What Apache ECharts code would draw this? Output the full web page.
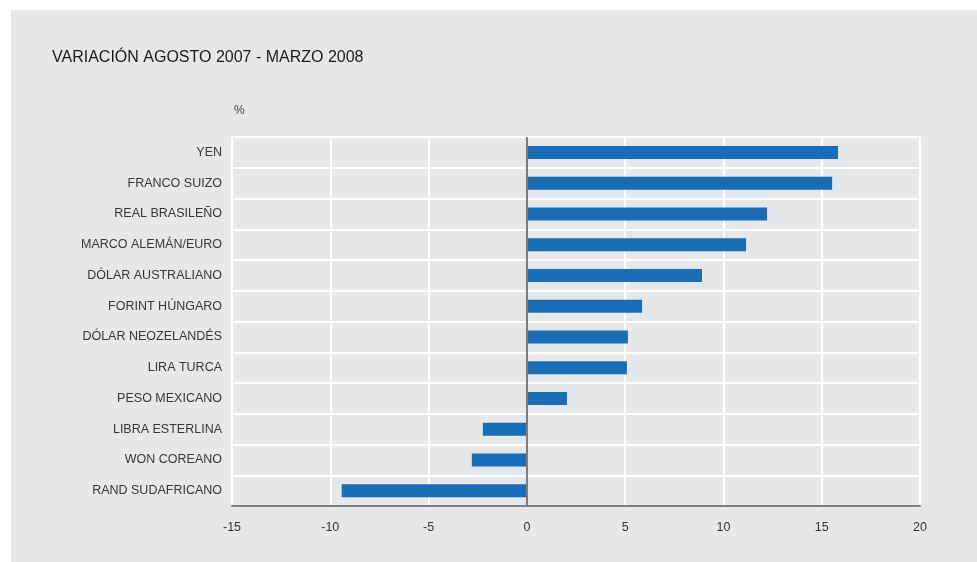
<!DOCTYPE html>
<html>
<head>
<meta charset="utf-8">
<script src="https://cdn.jsdelivr.net/npm/echarts@6/dist/echarts.min.js"></script>
<style>
html,body{margin:0;padding:0;background:#fff;}
#c{width:977px;height:562px;}
</style>
</head>
<body>
<div id="c"></div>
<script>
const categories = ["YEN","FRANCO SUIZO","REAL BRASILEÑO","MARCO ALEMÁN/EURO","DÓLAR AUSTRALIANO","FORINT HÚNGARO","DÓLAR NEOZELANDÉS","LIRA TURCA","PESO MEXICANO","LIBRA ESTERLINA","WON COREANO","RAND SUDAFRICANO"];
const values = [15.83, 15.53, 12.22, 11.15, 8.91, 5.86, 5.14, 5.09, 2.04, -2.24, -2.80, -9.42];
const titleText = "VARIACIÓN AGOSTO 2007 - MARZO 2008";
const unitText = "%";

const chart = echarts.init(document.getElementById('c'), null, {renderer: 'canvas'});
const FONT = 'Liberation Sans, Arial, sans-serif';
chart.setOption({
  backgroundColor: '#ffffff',
  animation: false,
  graphic: [
    {type: 'rect', left: 11, top: 10, z: -10, shape: {width: 966, height: 552}, style: {fill: '#e6e7e9'}},
    {type: 'text', left: 52, top: 50, style: {text: titleText, font: '16px ' + FONT, fill: '#1a1a1a'}},
    {type: 'text', left: 234, top: 105, style: {text: unitText, font: '12px ' + FONT, fill: '#444'}}
  ],
  grid: {left: 232, right: 57, top: 137, bottom: 56},
  xAxis: {
    type: 'value', min: -15, max: 20, interval: 5,
    axisLine: {show: true, onZero: false, lineStyle: {color: '#808080', width: 2}},
    axisTick: {show: false},
    axisLabel: {color: '#333', fontSize: 12.5, fontFamily: FONT, margin: 15},
    splitLine: {show: true, lineStyle: {color: '#ffffff', width: 2}}
  },
  yAxis: {
    type: 'category', data: categories, inverse: true,
    axisLine: {show: false},
    axisTick: {show: false},
    axisLabel: {color: '#363636', fontSize: 12.5, fontFamily: FONT, margin: 10},
    splitLine: {show: true, lineStyle: {color: '#ffffff', width: 2}}
  },
  series: [{
    type: 'bar', data: values, barWidth: 13,
    itemStyle: {color: '#186eb6'},
    markLine: {
      silent: true, symbol: 'none', label: {show: false},
      lineStyle: {color: '#7d7d7d', width: 2, type: 'solid'},
      data: [{xAxis: 0}]
    }
  }]
});
</script>
</body>
</html>
